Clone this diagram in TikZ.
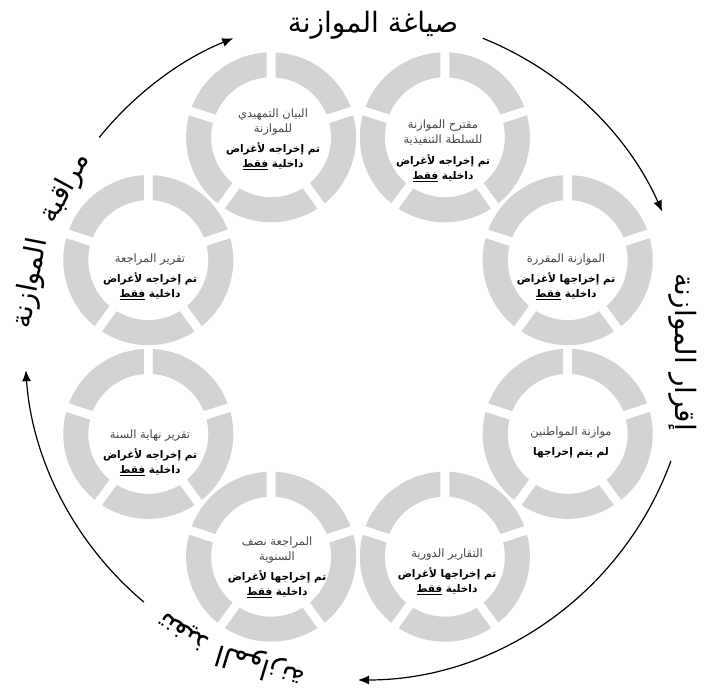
\documentclass[tikz,border=0pt]{standalone}
\usepackage{fontspec}
\usetikzlibrary{arrows.meta}
\TeXXeTstate=1
\newfontfamily\arabicfont[Script=Arabic]{DejaVu Sans}
\definecolor{seggray}{RGB}{209,211,212}
\definecolor{txtgray}{RGB}{70,70,72}
\newcommand{\AR}[1]{\beginR #1\endR}
\newcommand{\RL}[1]{{\fontsize{11.5}{15}\selectfont\color{txtgray}\beginR #1\endR}}
\newcommand{\BL}[1]{{\bfseries\fontsize{10.5}{15}\selectfont\beginR #1\endR}}
\begin{document}
\begin{tikzpicture}[x=1pt,y=1pt,
  seg/.style={fill=seggray},
  ringtext/.style={align=center, font=\arabicfont\fontsize{10.5}{15}\selectfont, inner sep=0pt},
  arr/.style={line width=1.2pt, -{Latex[length=11pt,width=9pt]}},
  biglabel/.style={font=\arabicfont\fontsize{28}{32}\selectfont, inner sep=0pt}]
\useasboundingbox (0,0) rectangle (714,692);
\coordinate (O) at (358,345);
\foreach \n/\a in {1/112.5,2/67.5,3/22.5,4/-22.5,5/-67.5,6/-112.5,7/-157.5,8/157.5}{
  \coordinate (r\n) at ([shift={(\a:227)}]O);
  \foreach \g in {90,18,-54,-126,-198}{
    \fill[seg] ([shift={({\g-3.03}:85)}]r\n) arc[start angle=\g-3.03, end angle=\g-68.97, radius=85]
      -- ([shift={({\g-67.7}:60)}]r\n) arc[start angle=\g-67.7, end angle=\g-4.3, radius=60] -- cycle;
  }
}
\node[ringtext] (t1) at (273,552.5) {\RL{البيان التمهيدي}\\\RL{للموازنة}\\[5pt]\BL{تم إخراجه لأغراض}\\\BL{داخلية \underline{فقط}}};
\node[ringtext] (t2) at (443,541) {\RL{مقترح الموازنة}\\\RL{للسلطة التنفيذية}\\[6pt]\BL{تم إخراجه لأغراض}\\\BL{داخلية \underline{فقط}}};
\node[ringtext] (t3) at (566,415.5) {\RL{الموازنة المقررة}\\[5pt]\BL{تم إخراجها لأغراض}\\\BL{داخلية \underline{فقط}}};
\node[ringtext] (t4) at (571,250) {\RL{موازنة المواطنين}\\[5pt]\BL{لم يتم إخراجها}};
\node[ringtext] (t5) at (447,120.5) {\RL{التقارير الدورية}\\[5pt]\BL{تم إخراجها لأغراض}\\\BL{داخلية \underline{فقط}}};
\node[ringtext] (t6) at (277,124.5) {\RL{المراجعة نصف}\\\RL{السنوية}\\[5pt]\BL{تم إخراجها لأغراض}\\\BL{داخلية \underline{فقط}}};
\node[ringtext] (t7) at (150,239.5) {\RL{تقرير نهاية السنة}\\[5pt]\BL{تم إخراجه لأغراض}\\\BL{داخلية \underline{فقط}}};
\node[ringtext] (t8) at (150,415.5) {\RL{تقرير المراجعة}\\[5pt]\BL{تم إخراجه لأغراض}\\\BL{داخلية \underline{فقط}}};
\draw[arr] ([shift={(141:333)}]O) arc[start angle=141, end angle=112, radius=333];
\draw[arr] ([shift={(68:333)}]O) arc[start angle=68, end angle=24, radius=333];
\draw[arr] ([shift={(-20:333)}]O) arc[start angle=-20, end angle=-90, radius=333];
\draw[arr] ([shift={(-130:333)}]O) arc[start angle=-130, end angle=-176, radius=333];
\node[biglabel] (lt) at (373,667) {\AR{صياغة الموازنة}};
\node[biglabel, rotate=-90] (lr) at (683,340) {\AR{إقرار الموازنة}};
\node[biglabel, rotate=148.5] (lb1) at (184,61) {\AR{تنفيذ}};
\node[biglabel, rotate=163] (lb2) at (260.6,26.6) {\AR{الموازنة}};
\node[biglabel, rotate=61.5] (ll1) at (65.5,504) {\AR{مراقبة}};
\node[biglabel, rotate=79] (ll2) at (31.1,408.5) {\AR{الموازنة}};
\end{tikzpicture}
\end{document}
